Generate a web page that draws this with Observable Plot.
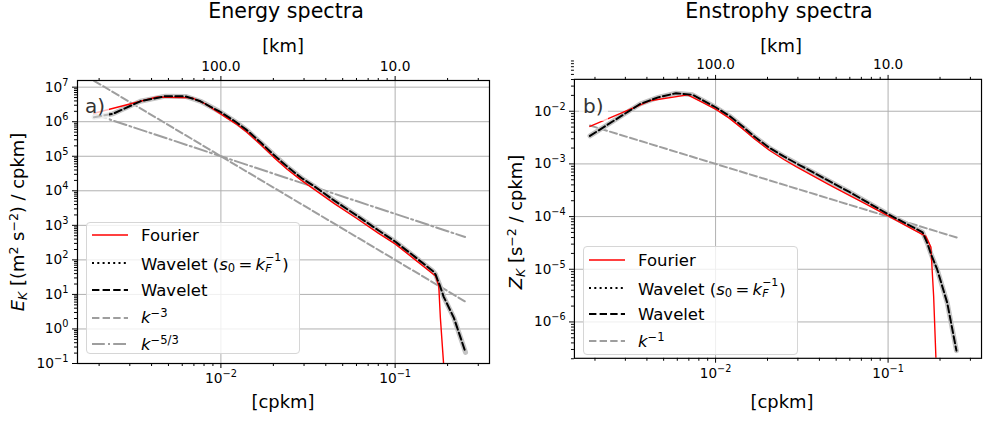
<!DOCTYPE html>
<html><head><meta charset="utf-8">
<script src="https://cdn.jsdelivr.net/npm/d3@7"></script>
<script src="https://cdn.jsdelivr.net/npm/@observablehq/plot@0.6"></script>
<style>
body{margin:0;background:#fff;}
#fig{position:relative;width:983px;height:421px;overflow:hidden;font-family:"DejaVu Sans",sans-serif;color:#000;}
.abs{position:absolute;white-space:nowrap;line-height:1;}
.title{font-size:20.6px;text-align:center;width:400px;}
.lab{font-size:17.9px;text-align:center;width:300px;}
.ylab{font-size:17.9px;text-align:center;width:320px;height:24px;line-height:24px;transform:rotate(-90deg);}
.legend{position:absolute;background:rgba(255,255,255,0.8);border:1px solid #d6d6d6;border-radius:4px;box-sizing:border-box;}
.row{position:absolute;left:0;height:22px;display:flex;align-items:center;font-size:16.5px;white-space:nowrap;}
.row svg{margin-left:5px;margin-right:13px;}
.tag{position:absolute;font-size:20px;color:#333;background:rgba(255,255,255,0.72);line-height:1;padding:5px 4px 5px 4px;}
sup.m{font-size:0.7em;vertical-align:0;position:relative;top:-0.5em;line-height:0;}
sub.m{font-size:0.7em;vertical-align:0;position:relative;top:0.25em;line-height:0;font-style:italic;}
.st{position:relative;display:inline-block;width:17px;height:16.5px;}
.st .sp{position:absolute;left:0;top:-1px;font-size:11px;line-height:11px;}
.st .sb{position:absolute;left:0;top:10.3px;font-size:11px;line-height:11px;font-style:italic;}
</style></head>
<body><div id="fig">
<div id="left" class="abs" style="left:0;top:0"></div>
<div id="right" class="abs" style="left:500px;top:0"></div>
</div>
<script>
// ---------- data ----------
const titles = ["Energy spectra", "Enstrophy spectra"];
const xMajor = [0.01, 0.1];
const xMinor = [0.002,0.003,0.004,0.005,0.006,0.007,0.008,0.009,0.02,0.03,0.04,0.05,0.06,0.07,0.08,0.09,0.2,0.3];
const yMajorE = [0.1,1,10,100,1e3,1e4,1e5,1e6,1e7];
const yMajorZ = [1e-6,1e-5,1e-4,1e-3,1e-2];

const energyFourierK = [0.00187,0.0043,0.00684,0.00815,0.00995,0.0122,0.0141,0.017,0.02,0.024,0.029,0.034,0.045,0.06,0.08,0.1005,0.13,0.1706,0.178,0.1818,0.1915];
const energyFourierE = [1.76e6,5.2e6,4.9e6,3.3e6,1.69e6,8.7e5,5.0e5,2.12e5,9.6e4,4.2e4,2.0e4,1.14e4,4.2e3,1.6e3,596,285,102,34,17.5,2.1,0.05];

const energyWaveletK = [0.00187,0.0024,0.00345,0.00481,0.00627,0.00764,0.01,0.0122,0.0141,0.017,0.02,0.024,0.029,0.034,0.045,0.06,0.08,0.1,0.13,0.165,0.1706,0.175,0.18,0.19,0.2173,0.2535];
const energyWaveletE = [1.35e6,1.69e6,3.9e6,5.5e6,5.4e6,3.9e6,1.88e6,9.8e5,5.7e5,2.45e5,1.13e5,5.0e4,2.35e4,1.4e4,5.1e3,1.95e3,720,339,122,47,38,27,19,8.5,2.1,0.21];

const energyWaveletS0K = [0.0024,0.00345,0.00481,0.00627,0.00764,0.01,0.0122,0.0141,0.017,0.02,0.024,0.029,0.034,0.045,0.06,0.08,0.1,0.13,0.165,0.1706,0.175,0.18,0.19,0.2173,0.2535];
const energyWaveletS0E = [1.69e6,3.9e6,5.5e6,5.4e6,3.9e6,1.88e6,9.8e5,5.7e5,2.45e5,1.13e5,5.0e4,2.35e4,1.4e4,5.1e3,1.95e3,720,339,122,47,38,27,19,8.5,2.1,0.21];

const refK = [0.00187, 0.252];
const refEk3 = [1.53e7, 6.25];        // k^-3
const refEk53 = [1.64e6, 460];        // k^-5/3
const refZk1 = [5.35e-3, 3.97e-5];    // k^-1

const enstFourierK = [0.00187,0.00416,0.00689,0.0084,0.01,0.012,0.0145,0.017,0.0206,0.025,0.0293,0.0454,0.06,0.075,0.1,0.1656,0.177,0.1837,0.1905];
const enstFourierZ = [5.15e-3,1.58e-2,2.05e-2,1.48e-2,1.1e-2,7.4e-3,4.52e-3,2.9e-3,1.8e-3,1.2e-3,8.85e-4,4.05e-4,2.5e-4,1.7e-4,1.03e-4,4.2e-5,2.64e-5,3.05e-6,1.2e-7];

const enstWaveletK = [0.00187,0.00365,0.00464,0.0059,0.00736,0.01,0.012,0.0145,0.017,0.0206,0.025,0.0293,0.0454,0.06,0.1,0.1585,0.1693,0.177,0.193,0.2203,0.249];
const enstWaveletZ = [3.4e-3,1.37e-2,1.83e-2,2.2e-2,2.05e-2,1.19e-2,8.2e-3,5.0e-3,3.2e-3,2.0e-3,1.37e-3,1.03e-3,4.74e-4,2.9e-4,1.11e-4,5.04e-5,3.04e-5,1.98e-5,9.7e-6,2.29e-6,2.85e-7];

const enstWaveletS0K = enstWaveletK;
const enstWaveletS0Z = enstWaveletZ;

// ---------- helpers ----------
const table = (K, V) => K.map((k, i) => ({k, v: V[i]}));
function minorTicks(lo, hi) {
  const out = [];
  for (let e = lo; e < hi; e++) for (let m = 2; m <= 9; m++) out.push(m * Math.pow(10, e));
  return out;
}
const sup = n => "10^" + (n < 0 ? "\u2212" + (-n) : String(n));
const expFmt = d => sup(Math.round(Math.log10(d)));

const C = {grid: "#b0b0b0", ref: "#9e9e9e", band: "#c4c4c4", red: "#ff0000"};
const dashed = "7.4,3.2", dashedBlk = "7.4,3.2", dotted = "2,3.3", dashdot = "12.8,3.2,2,3.2";

function lineMarks(fK, fV, wK, wV, sK, sV, refs) {
  return [
    ...refs,
    Plot.line(table(sK, sV), {x: "k", y: "v", stroke: "black", strokeWidth: 2, strokeDasharray: dotted, clip: true}),
    Plot.line(table(wK, wV), {x: "k", y: "v", stroke: C.band, strokeWidth: 5, clip: true}),
    Plot.line(table(fK, fV), {x: "k", y: "v", stroke: C.red, strokeWidth: 1.4, clip: true}),
    Plot.line(table(wK, wV), {x: "k", y: "v", stroke: "black", strokeWidth: 2, strokeDasharray: dashedBlk, clip: true})
  ];
}

function makePanel(o) {
  return Plot.plot({
    width: o.width, height: 421,
    marginLeft: o.ml, marginRight: 2, marginTop: 80, marginBottom: 58,
    x: {type: "log", domain: o.xDomain},
    y: {type: "log", domain: o.yDomain},
    style: {fontFamily: "DejaVu Sans", fontSize: "13.75px", color: "black", background: "transparent", overflow: "visible"},
    marks: [
      Plot.gridX(xMajor, {stroke: C.grid, strokeOpacity: 1, strokeWidth: 1}),
      Plot.gridY(o.yMajor, {stroke: C.grid, strokeOpacity: 1, strokeWidth: 1}),
      ...o.lines,
      Plot.frame({stroke: "black", strokeWidth: 1.2}),
      Plot.axisX(xMajor, {anchor: "bottom", tickSize: 5, tickPadding: 5, tickFormat: expFmt, label: null}),
      Plot.axisX(xMinor, {anchor: "bottom", tickSize: 3, tickFormat: () => "", label: null}),
      Plot.axisX(xMajor, {anchor: "top", tickSize: 5, tickPadding: 5, tickFormat: d => (1 / d).toFixed(1), label: null}),
      Plot.axisX(xMinor, {anchor: "top", tickSize: 3, tickFormat: () => "", label: null}),
      Plot.axisY(o.yMajor, {anchor: "left", tickSize: 5, tickPadding: 4, tickFormat: expFmt, label: null}),
      Plot.axisY(o.yMinor, {anchor: "left", tickSize: 3, tickFormat: () => "", label: null})
    ]
  });
}

function supify(svg) {
  const NS = "http://www.w3.org/2000/svg";
  svg.querySelectorAll("text").forEach(t => {
    const s = t.textContent;
    const m = s.match(/^(.*)\^(.*)$/);
    if (!m) return;
    t.textContent = "";
    const a = document.createElementNS(NS, "tspan"); a.textContent = m[1];
    const b = document.createElementNS(NS, "tspan"); b.textContent = m[2];
    b.setAttribute("dy", "-6"); b.setAttribute("font-size", "9.8");
    t.append(a, b);
  });
}

const leftSvg = makePanel({
  width: 491, ml: 77, xDomain: [0.001503, 0.348], yDomain: [0.1, 1.56e7],
  yMajor: yMajorE, yMinor: minorTicks(-1, 7),
  lines: lineMarks(energyFourierK, energyFourierE, energyWaveletK, energyWaveletE, energyWaveletS0K, energyWaveletS0E, [
    Plot.line(table(refK, refEk3), {x: "k", y: "v", stroke: C.ref, strokeWidth: 2, strokeDasharray: dashed, clip: true}),
    Plot.line(table(refK, refEk53), {x: "k", y: "v", stroke: C.ref, strokeWidth: 2, strokeDasharray: dashdot, clip: true})
  ])
});
const rightSvg = makePanel({
  width: 490, ml: 75, xDomain: [0.00152, 0.348], yDomain: [2.04e-7, 0.0403],
  yMajor: yMajorZ, yMinor: minorTicks(-7, -1),
  lines: lineMarks(enstFourierK, enstFourierZ, enstWaveletK, enstWaveletZ, enstWaveletS0K, enstWaveletS0Z, [
    Plot.line(table(refK, refZk1), {x: "k", y: "v", stroke: C.ref, strokeWidth: 2, strokeDasharray: dashed, clip: true})
  ])
});
supify(leftSvg); supify(rightSvg);
document.getElementById("left").appendChild(leftSvg);
document.getElementById("right").appendChild(rightSvg);

// ---------- text overlays ----------
const fig = document.getElementById("fig");
function add(html, cls, style) {
  const d = document.createElement("div");
  d.className = cls; d.innerHTML = html; d.setAttribute("style", style);
  fig.appendChild(d); return d;
}
add(titles[0], "abs title", "left:86px;top:0.6px");
add(titles[1], "abs title", "left:579px;top:0.6px");
add("[km]", "abs lab", "left:133px;top:36.6px");
add("[km]", "abs lab", "left:631px;top:36.6px");
add("[cpkm]", "abs lab", "left:133px;top:393.3px");
add("[cpkm]", "abs lab", "left:632px;top:393.3px");
add('<i>E</i><sub class="m">K</sub> [(m<sup class="m">2</sup> s<sup class="m">\u22122</sup>) / cpkm]', "abs ylab", "left:-142px;top:210px");
add('<i>Z</i><sub class="m">K</sub> [s<sup class="m">\u22122</sup> / cpkm]', "abs ylab", "left:356px;top:210px");
add("a)", "tag", "left:81px;top:91px");
add("b)", "tag", "left:579px;top:91px");

function sample(kind) {
  const st = {
    fourier: `stroke="${C.red}" stroke-width="1.4"`,
    s0: `stroke="black" stroke-width="2" stroke-dasharray="${dotted}"`,
    wav: `stroke="black" stroke-width="2" stroke-dasharray="${dashedBlk}"`,
    k3: `stroke="${C.ref}" stroke-width="2" stroke-dasharray="${dashed}"`,
    k53: `stroke="${C.ref}" stroke-width="2" stroke-dasharray="${dashdot}"`
  }[kind];
  return `<svg width="36" height="10"><line x1="0" y1="5" x2="36" y2="5" ${st}/></svg>`;
}
const s0Label = 'Wavelet (<i>s</i><sub class="m" style="font-style:normal">0</sub>\u2009=\u2009<i>k</i><span class="st"><span class="sp">\u22121</span><span class="sb">F</span></span>)';
const legendLeft = [
  ["fourier", "Fourier"], ["s0", s0Label], ["wav", "Wavelet"],
  ["k3", '<i>k</i><sup class="m">\u22123</sup>'], ["k53", '<i>k</i><sup class="m">\u22125/3</sup>']
];
const legendRight = [
  ["fourier", "Fourier"], ["s0", s0Label], ["wav", "Wavelet"], ["k3", '<i>k</i><sup class="m">\u22121</sup>']
];
function legend(items, left, top, w, h, rows) {
  const box = add("", "legend", `left:${left}px;top:${top}px;width:${w}px;height:${h}px`);
  items.forEach(([kind, txt], i) => {
    const r = document.createElement("div");
    r.className = "row";
    r.style.top = (rows[i] - 11) + "px";
    r.innerHTML = sample(kind) + "<span>" + txt + "</span>";
    box.appendChild(r);
  });
}
legend(legendLeft, 86, 222, 214, 132, [12.3, 40, 67.3, 94.7, 121]);
legend(legendRight, 583, 246, 215, 109, [13.3, 41.3, 67.3, 94]);
</script>
</body></html>
